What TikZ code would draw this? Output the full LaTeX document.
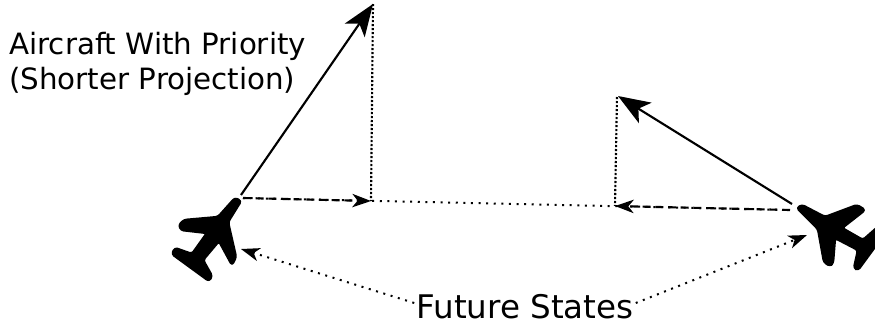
\documentclass[tikz,border=0pt]{standalone}
\usepackage{fontspec}
\setmainfont{DejaVu Sans}
\usetikzlibrary{arrows.meta}
\tikzset{
  tipbig/.style={-{Stealth[length=24pt,width=18pt,inset=6pt]}},
  solidline/.style={line width=1.6pt,black,tipbig},
  tipsmall/.style={-{Stealth[length=14pt,width=10pt,inset=4pt]}},
  dashline/.style={line width=1.6pt,dash pattern=on 6pt off 3.5pt,tipsmall},
  dotline/.style={line width=1.5pt,dash pattern=on 1.5pt off 4.2pt},
  dotdense/.style={line width=1.6pt,dash pattern=on 1.6pt off 1.4pt},
  dotarrow/.style={dotline,tipsmall},
  planebody/.style={fill=black,draw=black,line width=1.8pt,line join=round,rounded corners=2pt},
  labeltext/.style={inner sep=0pt,align=left,text=black}
}
\begin{document}
\begin{tikzpicture}[x=0.75pt,y=-0.75pt]
\useasboundingbox (0,0) rectangle (875,326);
\clip (0,0) rectangle (875,326);
% anchor points
\coordinate (leftnose) at (243,198);
\coordinate (leftstart) at (241,195);
\coordinate (lefttip) at (373,4);
\coordinate (leftfoot) at (371,201);
\coordinate (rightnose) at (790,210);
\coordinate (rightstart) at (792,204);
\coordinate (righttip) at (618,96);
\coordinate (rightfoot) at (615,206);
\coordinate (leftfuture) at (241,249);
\coordinate (rightfuture) at (807,235);
% planes
\path[planebody] (235,198) -- (241,201) -- (228,222) -- (236,257) -- (232,265) -- (219,241) -- (203,260) -- (212,276) -- (209,281) -- (172,254) -- (175,248) -- (192,254) -- (207,233) -- (181,230) -- (179,225) -- (184,220) -- (218,217) -- cycle;
\path[planebody] (797,208) -- (802,205) -- (825,217) -- (857,205) -- (865,210) -- (842,228) -- (863,240) -- (880,225) -- (880,240) -- (858,270) -- (854,268) -- (858,250) -- (835,238) -- (833,263) -- (830,266) -- (824,262) -- (818,229) -- cycle;
% labels
\node[labeltext,anchor=west,font=\fontsize{22pt}{26pt}\selectfont] (priority) at (9,64) {Aircraft With Priority\\(Shorter Projection)};
\node[labeltext,font=\fontsize{24.4pt}{28pt}\selectfont] (future) at (525,307) {Future States};
% connectors
\draw[dotline] (leftnose) -- (rightnose);
\draw[dashline] (leftnose) -- (leftfoot);
\draw[dashline] (rightnose) -- (rightfoot);
\draw[dotdense] (lefttip) -- (leftfoot);
\draw[dotdense] (617,97) -- (rightfoot);
\draw[solidline] (leftstart) -- (lefttip);
\draw[solidline] (rightstart) -- (righttip);
\draw[dotarrow] (future.west) ++(-2,-4) -- (leftfuture);
\draw[dotarrow] (future.east) ++(2,-4) -- (rightfuture);
\end{tikzpicture}
\end{document}
